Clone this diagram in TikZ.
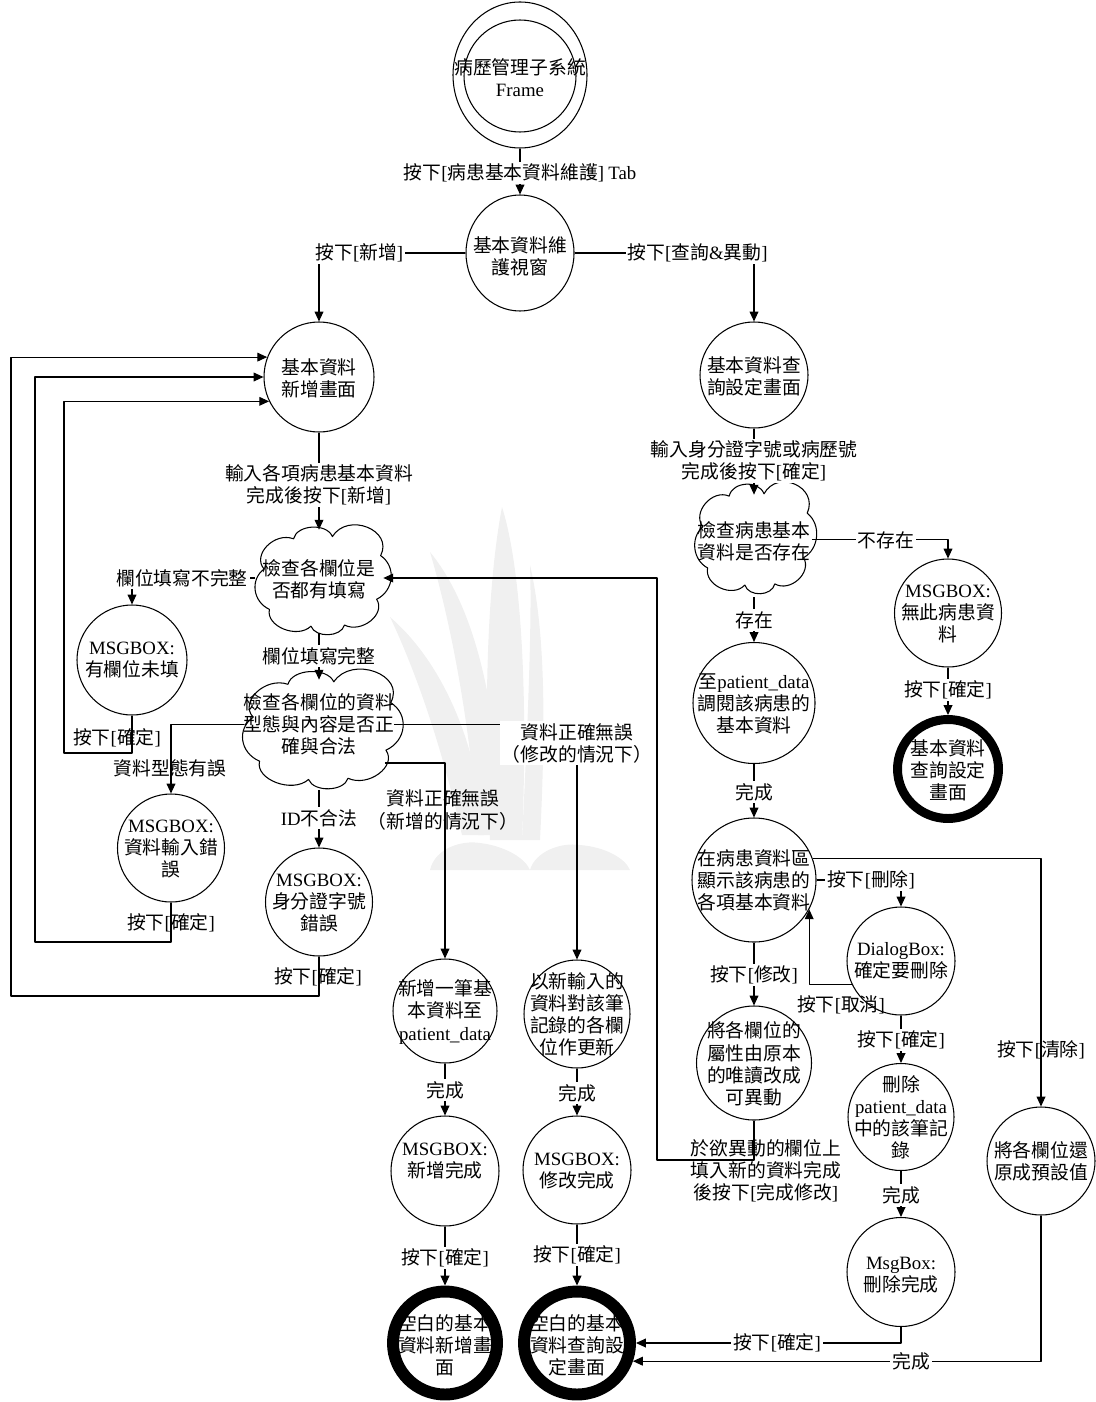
\documentclass[tikz,border=0pt]{standalone}
\usepackage{fontspec}
\usetikzlibrary{arrows.meta,shapes.geometric}
\setmainfont{Noto Sans CJK TC}
\newfontfamily\latinface{Liberation Serif}
% Latin words, bracketed button names and "press button" labels
\newcommand{\enf}[1]{{\latinface #1}}
\newcommand{\btn}[1]{{\latinface[}#1{\latinface]}}
\newcommand{\prs}[1]{按下\btn{#1}}
\newcommand{\fsz}{\fontsize{10.7pt}{12.6pt}\selectfont}
% cloud outline: centre, half width, half height (in px units)
\newcommand{\cloudline}[3]{%
  \begin{scope}[shift={#1}, xscale=#2, yscale=-#3]
    \draw[wire, fill=white] (-0.38,0.70) to[lobe] (0.20,0.74) to[tall lobe] (0.92,0.40)
      to[side lobe] (0.86,-0.38) to[lobe] (0.38,-0.84) to[lobe] (-0.12,-0.86)
      to[lobe] (-0.74,-0.56) to[side lobe] (-0.82,0.16) to[lobe] (-0.38,0.70) -- cycle;
  \end{scope}}
\begin{document}
\begin{tikzpicture}[x=0.02cm, y=-0.02cm,
  wire/.style={draw=black, line width=0.6pt, line join=round},
  arr/.style={wire, -{Triangle[length=5.6pt,width=5pt]}},
  st/.style 2 args={ellipse, draw=black, line width=0.6pt, inner sep=0pt,
    minimum width=#1*0.02cm, minimum height=#2*0.02cm},
  fin/.style 2 args={ellipse, draw=black, line width=6.8pt, inner sep=0pt,
    minimum width=#1*0.02cm, minimum height=#2*0.02cm},
  finq/.style 2 args={ellipse, draw=black, line width=5.1pt, inner sep=0pt,
    minimum width=#1*0.02cm, minimum height=#2*0.02cm},
  cloudnode/.style 2 args={ellipse, inner sep=0pt,
    minimum width=#1*0.02cm, minimum height=#2*0.02cm},
  txt/.style={align=center, inner sep=0pt, font=\fsz},
  lab/.style={align=center, inner sep=1.2pt, font=\fsz, fill=white},
  labn/.style={align=center, inner sep=1.2pt, font=\fsz},
  lobe/.style={bend right=75, looseness=1.15},
  tall lobe/.style={bend right=88, looseness=1.6},
  side lobe/.style={bend right=55},
  emblem/.style={fill=black!6, draw=none}]
\useasboundingbox (0,0) rectangle (1095,1402);

% ---------- faint emblem in the background: leaves over an open book ----------
\fill[emblem] (490,840) .. controls (483,700) and (488,580) .. (502,507)
  .. controls (522,570) and (528,700) .. (522,840) -- cycle;
\fill[emblem] (478,835) .. controls (470,720) and (450,620) .. (430,552)
  .. controls (478,610) and (500,720) .. (500,835) -- cycle;
\fill[emblem] (462,835) .. controls (440,740) and (415,670) .. (390,617)
  .. controls (440,660) and (478,740) .. (484,835) -- cycle;
\fill[emblem] (522,840) .. controls (528,720) and (532,620) .. (530,565)
  .. controls (545,630) and (546,720) .. (540,840) -- cycle;
\fill[emblem] (430,870) .. controls (435,848) and (462,840) .. (480,843)
  .. controls (505,846) and (525,858) .. (530,870) -- cycle;
\fill[emblem] (530,870) .. controls (535,852) and (560,842) .. (580,845)
  .. controls (605,847) and (625,858) .. (630,870) -- cycle;

% ---------- states ----------
\node[st={134}{146}] (frame) at (520,75) {};
\node[st={112}{112}] (frameIn) at (520,76) {};
\node[txt] (frameT) at (520,78) {病歷管理子系統\\\enf{Frame}};

\node[st={108}{116}] (win) at (520,253) {};
\node[txt] (winT) at (520,256) {基本資料維\\護視窗};

\node[st={110}{110}] (newForm) at (319,377) {};
\node[txt] (newFormT) at (319,378) {基本資料\\新增畫面};

\node[st={108}{106}] (qryForm) at (754,375) {};
\node[txt] (qryFormT) at (754,376) {基本資料查\\詢設定畫面};

\node[cloudnode={128}{110}] (chkFill) at (319,578) {};
\cloudline{(319,578)}{67}{56}
\node[txt] (chkFillT) at (319,579) {檢查各欄位是\\否都有填寫};

\node[st={110}{110}] (msgBlank) at (132,660) {};
\node[txt] (msgBlankT) at (132,660) {\enf{MSGBOX:}\\有欄位未填};

\node[cloudnode={152}{110}] (chkType) at (319,735) {};
\cloudline{(318,727)}{79}{61}
\node[txt] (chkTypeT) at (319,724) {檢查各欄位的資料\\型態與內容是否正\\確與合法};

\node[st={107}{108}] (msgType) at (171,848) {};
\node[txt] (msgTypeT) at (171,849) {\enf{MSGBOX:}\\資料輸入錯\\誤};

\node[st={107}{108}] (msgId) at (319,902) {};
\node[txt] (msgIdT) at (319,903) {\enf{MSGBOX:}\\身分證字號\\錯誤};

\node[st={104}{104}] (insRec) at (445,1011) {};
\node[txt] (insRecT) at (445,1012) {新增一筆基\\本資料至\\\enf{patient\_data}};

\node[st={106}{108}] (updRec) at (577,1014) {};
\node[txt] (updRecT) at (577,1014) {以新輸入的\\資料對該筆\\記錄的各欄\\位作更新};

\node[st={108}{110}] (msgIns) at (445,1171) {};
\node[txt] (msgInsT) at (445,1161) {\enf{MSGBOX:}\\新增完成};

\node[st={108}{108}] (msgUpd) at (577,1170) {};
\node[txt] (msgUpdT) at (577,1171) {\enf{MSGBOX:}\\修改完成};

\node[fin={104}{103}] (blankNew) at (445,1343) {};
\node[txt] (blankNewT) at (445,1345) {空白的基本\\資料新增畫\\面};

\node[fin={106}{103}] (blankQry) at (577,1343) {};
\node[txt] (blankQryT) at (577,1345) {空白的基本\\資料查詢設\\定畫面};

\node[cloudnode={116}{102}] (chkExist) at (754,546) {};
\cloudline{(752,536)}{60}{57}
\node[txt] (chkExistT) at (754,541) {檢查病患基本\\資料是否存在};

\node[st={107}{108}] (msgNone) at (948,613) {};
\node[txt] (msgNoneT) at (948,614) {\enf{MSGBOX:}\\無此病患資\\料};

\node[finq={101}{99}] (backQry) at (948,769) {};
\node[txt] (backQryT) at (948,770) {基本資料\\查詢設定\\畫面};

\node[st={122}{121}] (fetch) at (754,703) {};
\node[txt] (fetchT) at (754,704) {至\enf{patient\_data}\\調閱該病患的\\基本資料};

\node[st={124}{124}] (show) at (754,880) {};
\node[txt] (showT) at (754,880) {在病患資料區\\顯示該病患的\\各項基本資料};

\node[st={108}{108}] (dlg) at (901,961) {};
\node[txt] (dlgT) at (901,961) {\enf{DialogBox:}\\確定要刪除};

\node[st={115}{114}] (edit) at (754,1063) {};
\node[txt] (editT) at (754,1064) {將各欄位的\\屬性由原本\\的唯讀改成\\可異動};

\node[st={106}{107}] (delRec) at (901,1117) {};
\node[txt] (delRecT) at (901,1117) {刪除\\\enf{patient\_data}\\中的該筆記\\錄};

\node[st={108}{109}] (msgDel) at (901,1272) {};
\node[txt] (msgDelT) at (901,1275) {\enf{MsgBox:}\\刪除完成};

\node[st={108}{108}] (reset) at (1041,1161) {};
\node[txt] (resetT) at (1041,1161) {將各欄位還\\原成預設值};

% ---------- transitions ----------
\draw[arr] (frame) -- (win);
\draw[arr] (win.west) -| (newForm.north);
\draw[arr] (win.east) -| (qryForm.north);
\draw[arr, shorten >=-0.14cm] (newForm) -- (chkFill);
\draw[arr] (chkFill.west) -| (msgBlank.north);
\draw[arr] (chkFill) -- (chkType);
\draw[arr] (chkType.172) -| (msgType.north);
\draw[arr] (chkType) -- (msgId);
\draw[arr] (chkType.-23) -| (insRec.north);
\draw[arr] (chkType.8) -| (updRec.north);
\draw[arr] (msgBlank.south) |- (64,753) |- (newForm.206);
\draw[arr] (msgType.south) |- (35,942) |- (newForm.west);
\draw[arr] (msgId.south) |- (11,996) |- (newForm.159);
\draw[arr] (insRec) -- (msgIns);
\draw[arr] (msgIns) -- (blankNew);
\draw[arr] (updRec) -- (msgUpd);
\draw[arr] (msgUpd) -- (blankQry);
\draw[arr] (qryForm) -- (chkExist);
\draw[arr] (chkExist.6) -| (msgNone.north);
\draw[arr] (msgNone) -- (backQry);
\draw[arr] (chkExist) -- (fetch);
\draw[arr] (fetch) -- (show);
\draw[arr] (show.east) -| (dlg.north);
\draw[arr] (show.20) -| (reset.north);
\draw[arr] (show) -- (edit);
\draw[arr] (dlg.206) -| (show.-28);
\draw[arr] (dlg) -- (delRec);
\draw[arr] (delRec) -- (msgDel);
\draw[arr] (msgDel.south) |- (blankQry.east);
\draw[arr] (reset.south) |- (blankQry.-18);
\draw[arr] (edit.south) |- (657,1160) |- (chkFill.east);

% ---------- transition labels (breaking the line) ----------
\node[lab] (lTab) at (520,173) {\prs{病患基本資料維護} \enf{Tab}};
\node[lab, anchor=west] (lNew) at (313,253) {\prs{新增}};
\node[lab, anchor=east] (lQry) at (770,253) {\prs{查詢\enf{\&}異動}};
\node[lab] (lInput) at (319,485) {輸入各項病患基本資料\\完成後\prs{新增}};
\node[lab] (lIncomp) at (182,578) {欄位填寫不完整};
\node[lab] (lComp) at (319,656) {欄位填寫完整};
\node[lab] (lId) at (319,818) {\enf{ID}不合法};
\node[lab, anchor=north] (lUpdCond) at (577,721) {資料正確無誤\\（修改的情況下）};
\node[lab] (lInsDone) at (445,1090) {完成};
\node[lab] (lUpdDone) at (577,1093) {完成};
\node[lab] (lInsOk) at (445,1258) {\prs{確定}};
\node[lab] (lUpdOk) at (577,1255) {\prs{確定}};
\node[lab] (lQryIn) at (754,461) {輸入身分證字號或病歷號\\完成後\prs{確定}};
\node[lab] (lNone) at (886,540) {不存在};
\node[lab] (lExist) at (754,620) {存在};
\node[lab] (lNoneOk) at (948,690) {\prs{確定}};
\node[lab] (lFetchDone) at (754,792) {完成};
\node[lab] (lDel) at (871,880) {\prs{刪除}};
\node[lab] (lMod) at (754,975) {\prs{修改}};
\node[lab] (lDlgOk) at (901,1040) {\prs{確定}};
\node[lab] (lDelDone) at (901,1195) {完成};
\node[lab] (lMsgDelOk) at (777,1343) {\prs{確定}};
\node[lab] (lResetDone) at (911,1361) {完成};

% ---------- transition labels (beside the line) ----------
\node[labn] (lBlankOk) at (117,738) {\prs{確定}};
\node[labn] (lTypeErr) at (170,768) {資料型態有誤};
\node[labn] (lTypeOk) at (171,923) {\prs{確定}};
\node[labn] (lIdOk) at (318,977) {\prs{確定}};
\node[labn] (lInsCond) at (443,810) {資料正確無誤\\（新增的情況下）};
\node[labn] (lClear) at (1041,1050) {\prs{清除}};
\node[labn] (lCancel) at (841,1005) {\prs{取消}};
\node[labn] (lEditDone) at (766,1171) {於欲異動的欄位上\\填入新的資料完成\\後按下\btn{完成修改}};
\end{tikzpicture}
\end{document}
